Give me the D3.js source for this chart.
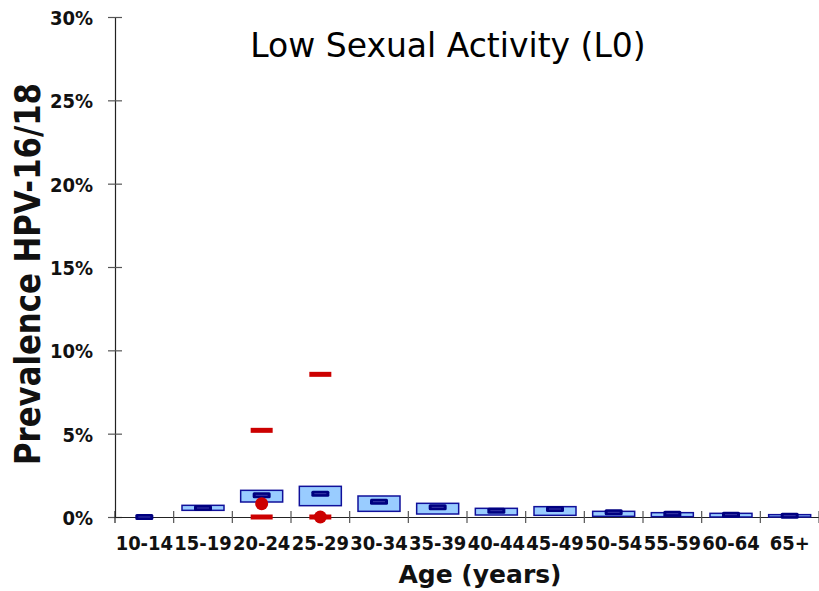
<!DOCTYPE html>
<html>
<head>
<meta charset="utf-8">
<script src="https://cdn.jsdelivr.net/npm/d3@7"></script>
<style>
  html, body { margin: 0; padding: 0; background: #fff; }
  svg { display: block; }
</style>
</head>
<body>
<svg id="chart" width="819" height="591"></svg>
<script>
// ---- data ----
const categories = ["10-14","15-19","20-24","25-29","30-34","35-39","40-44","45-49","50-54","55-59","60-64","65+"];
const boxLow  = [0.00, 0.40, 0.90, 0.68, 0.34, 0.18, 0.12, 0.10, 0.04, 0.02, 0.00, 0.00];
const boxHigh = [0.00, 0.70, 1.60, 1.84, 1.26, 0.82, 0.52, 0.62, 0.34, 0.26, 0.22, 0.14];
const median  = [0.00, 0.54, 1.30, 1.40, 0.92, 0.58, 0.38, 0.48, 0.28, 0.20, 0.14, 0.08];
const obsLow   = [null, null, 0.0, 0.0, null, null, null, null, null, null, null, null];
const obsHigh  = [null, null, 5.2, 8.56, null, null, null, null, null, null, null, null];
const obsPoint = [null, null, 0.80, 0.0, null, null, null, null, null, null, null, null];
const yTicks = [0, 5, 10, 15, 20, 25, 30];
const titleText = "Low Sexual Activity (L0)";
const yLabel = "Prevalence HPV-16/18";
const xLabel = "Age (years)";

(function () {
// ---- layout ----
const svg = d3.select("#chart");
const mLeft = 115, mRight = 819, mTop = 17, mBottom = 517;
const x = d3.scaleBand().domain(categories).range([mLeft, mRight]).padding(0);
const y = d3.scaleLinear().domain([0, 30]).range([mBottom, mTop]);
const font = "'DejaVu Sans', Verdana, sans-serif";
const condense = (sel, k) => sel.each(function () {
  const len = this.getComputedTextLength();
  d3.select(this).attr("textLength", len * k).attr("lengthAdjust", "spacingAndGlyphs");
});

// title
svg.append("text")
  .attr("x", 448).attr("y", 56.5)
  .attr("text-anchor", "middle")
  .style("font-family", font).style("font-size", "33px").attr("fill", "#000")
  .text(titleText);

// y axis
const gy = svg.append("g").attr("transform", `translate(${mLeft},0)`)
  .call(d3.axisLeft(y).tickValues(yTicks).tickFormat(d => d + "%").tickSizeInner(7).tickSizeOuter(0));
gy.select(".domain").attr("stroke", "#222").attr("stroke-width", 1.2);
gy.selectAll(".tick line").attr("x1", -7).attr("x2", 7).attr("stroke", "#555").attr("stroke-width", 1.2);
gy.selectAll(".tick text")
  .attr("x", -22).attr("dy", "7.5").attr("fill", "#111")
  .style("font-family", font).style("font-size", "20px").style("font-weight", "bold")
  .call(condense, 0.9);

// x axis
const gx = svg.append("g").attr("transform", `translate(0,${mBottom})`)
  .call(d3.axisBottom(x).tickSize(0).tickPadding(0));
gx.select(".domain").attr("stroke", "#222").attr("stroke-width", 1.2);
gx.selectAll(".tick text")
  .attr("y", 33).attr("dy", null).attr("fill", "#111")
  .style("font-family", font).style("font-size", "19.5px").style("font-weight", "bold")
  .call(condense, 0.92);
// category boundary ticks
const bounds = categories.map(c => x(c)).concat([mRight]);
svg.append("g").selectAll("line").data(bounds).join("line")
  .attr("x1", d => d).attr("x2", d => d)
  .attr("y1", mBottom - 6).attr("y2", mBottom + 6)
  .attr("stroke", d => d === mLeft ? "#222" : "#555").attr("stroke-width", 1.2);

// axis titles
svg.append("text")
  .attr("transform", "translate(40,274) rotate(-90)")
  .attr("text-anchor", "middle")
  .attr("textLength", 382).attr("lengthAdjust", "spacingAndGlyphs")
  .style("font-family", font).style("font-size", "35px").style("font-weight", "bold").attr("fill", "#111")
  .text(yLabel);
svg.append("text")
  .attr("x", 480).attr("y", 583)
  .attr("text-anchor", "middle")
  .style("font-family", font).style("font-size", "25px").style("font-weight", "bold").attr("fill", "#111")
  .text(xLabel);

// ---- marks ----
const bw = x.bandwidth();
const boxW = 42, medW = 18, medH = 6, dashW = 22, dashH = 5;
const cx = c => x(c) + bw / 2;
const rows = categories.map((c, i) => ({c, lo: boxLow[i], hi: boxHigh[i], med: median[i],
  oLo: obsLow[i], oHi: obsHigh[i], oPt: obsPoint[i]}));

const marks = svg.append("g");
marks.selectAll("rect.box").data(rows).join("rect").attr("class", "box")
  .attr("x", d => cx(d.c) - boxW / 2)
  .attr("y", d => y(d.hi))
  .attr("width", boxW)
  .attr("height", d => Math.max(0, y(d.lo) - y(d.hi)))
  .attr("fill", "#99ccff").attr("stroke", "#10109a").attr("stroke-width", 1.5);
marks.selectAll("rect.med").data(rows).join("rect").attr("class", "med")
  .attr("x", d => cx(d.c) - medW / 2)
  .attr("y", d => y(d.med) - medH / 2)
  .attr("width", medW).attr("height", medH).attr("rx", 1.5)
  .attr("fill", "#000080");
marks.selectAll("line.medl").data(rows).join("line").attr("class", "medl")
  .attr("x1", d => cx(d.c) - medW / 2 + 3).attr("x2", d => cx(d.c) + medW / 2 - 3)
  .attr("y1", d => y(d.med)).attr("y2", d => y(d.med))
  .attr("stroke", "#3a3aa8").attr("stroke-width", 1);

const dashes = [];
rows.forEach(d => {
  if (d.oLo != null) dashes.push({c: d.c, v: d.oLo});
  if (d.oHi != null) dashes.push({c: d.c, v: d.oHi});
});
marks.selectAll("rect.dash").data(dashes).join("rect").attr("class", "dash")
  .attr("x", d => cx(d.c) - dashW / 2)
  .attr("y", d => y(d.v) - dashH / 2)
  .attr("width", dashW).attr("height", dashH)
  .attr("fill", "#cc0000");
marks.selectAll("circle.obs").data(rows.filter(d => d.oPt != null)).join("circle").attr("class", "obs")
  .attr("cx", d => cx(d.c)).attr("cy", d => y(d.oPt)).attr("r", 6.5)
  .attr("fill", "#cc0000");
})();
</script>
</body>
</html>
